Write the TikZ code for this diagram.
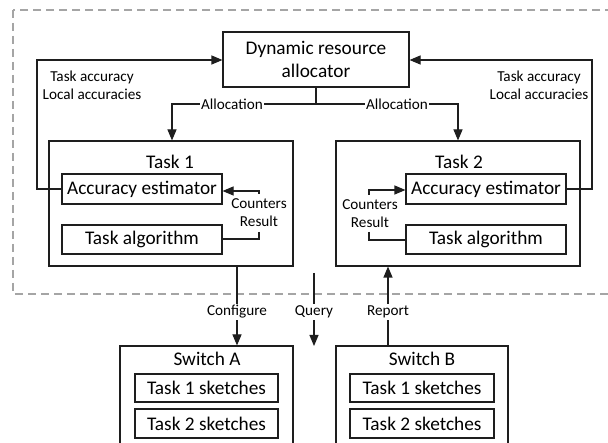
\documentclass[tikz,border=0pt]{standalone}
\usepackage{fontspec}
\setmainfont{Carlito}
\usetikzlibrary{arrows.meta}
\begin{document}
\begin{tikzpicture}[x=1pt,y=-1pt,
  line width=1.1pt, draw={rgb,255:red,30;green,30;blue,30},
  box/.style={draw, rectangle, inner sep=0pt, font=\fontsize{19.3}{22}\selectfont},
  big/.style={font=\fontsize{19.3}{22}\selectfont, inner sep=0pt},
  lbl/.style={font=\fontsize{15.2}{18}\selectfont, inner sep=1.5pt, align=center},
  wlbl/.style={lbl, fill=white},
  arr/.style={-{Triangle[length=11pt,width=9pt]}},
  dashbox/.style={draw={rgb,255:red,165;green,165;blue,165}, line width=1.1pt, dash pattern=on 8pt off 5pt}
]
\clip (0,0) rectangle (608,443);
\fill[white] (0,0) rectangle (608,443);
\draw[dashbox] (13,10) rectangle (640,294);

% allocator
\node[box, minimum width=186pt, minimum height=55pt, align=center] (alloc) at (316,59.5) {Dynamic resource\\[1pt]allocator};

% task 1
\node[box, minimum width=244pt, minimum height=125pt] (t1) at (171,203.5) {};
\node[big] (t1l) at (170,162) {Task 1};
\node[box, minimum width=160pt, minimum height=30pt] (ae1) at (142,189) {Accuracy estimator};
\node[box, minimum width=160pt, minimum height=29pt] (ta1) at (142,239.5) {Task algorithm};

% task 2
\node[box, minimum width=244pt, minimum height=125pt] (t2) at (458,203.5) {};
\node[big] (t2l) at (459,162) {Task 2};
\node[box, minimum width=160pt, minimum height=30pt] (ae2) at (486,189) {Accuracy estimator};
\node[box, minimum width=160pt, minimum height=29pt] (ta2) at (486,239.5) {Task algorithm};

% switches
\node[box, minimum width=173pt, minimum height=120pt] (swa) at (206.5,406) {};
\node[big] (swal) at (207,359) {Switch A};
\node[box, minimum width=143pt, minimum height=28pt] (s1a) at (206.5,388) {Task 1 sketches};
\node[box, minimum width=143pt, minimum height=29pt] (s2a) at (206.5,423.5) {Task 2 sketches};

\node[box, minimum width=172pt, minimum height=120pt] (swb) at (422,406) {};
\node[big] (swbl) at (422,359) {Switch B};
\node[box, minimum width=144pt, minimum height=28pt] (s1b) at (422,388) {Task 1 sketches};
\node[box, minimum width=144pt, minimum height=29pt] (s2b) at (422,423.5) {Task 2 sketches};

% feedback to allocator
\coordinate (fl) at (37,60);
\coordinate (fr) at (592,60);
\draw[arr] (ae1.west) -| (fl) -- (alloc.west |- fl);
\draw[arr] (ae2.east) -| (fr) -- (alloc.east |- fr);
\node[lbl] (fbl) at (92,85) {Task accuracy\\Local accuracies};
\node[lbl] (fbr) at (539,85) {Task accuracy\\Local accuracies};

% allocation
\coordinate (aj) at (316,104);
\coordinate (al) at (172,104);
\coordinate (ar) at (458,104);
\draw (alloc.south) -- (aj);
\draw[arr] (aj) -- (al) -- (al |- t1.north);
\draw[arr] (aj) -- (ar) -- (ar |- t2.north);
\node[wlbl] (all1) at (232,104) {Allocation};
\node[wlbl] (all2) at (397,104) {Allocation};

% counters / result
\coordinate (c1a) at (259,194);
\coordinate (c1b) at (259,232);
\draw[arr] (c1a) |- (ae1.east |- 0,191);
\draw (c1b) |- (ta1.east |- 0,239);
\node[lbl] (cr1) at (259,213) {Counters\\Result};
\coordinate (c2a) at (369,195);
\coordinate (c2b) at (369,232);
\draw[arr] (c2a) |- (ae2.west |- 0,190);
\draw (c2b) |- (ta2.west |- 0,240);
\node[lbl] (cr2) at (370,214) {Counters\\Result};

% configure / query / report
\coordinate (cf) at (237,266);
\draw[arr] (cf) -- (cf |- swa.north);
\node[wlbl] (cfl) at (237,312) {Configure};
\coordinate (q0) at (314,273);
\coordinate (q1) at (314,346);
\draw[arr] (q0) -- (q1);
\node[wlbl] (ql) at (314,312) {Query};
\coordinate (rp) at (388,346);
\draw[arr] (rp) -- (rp |- t2.south);
\node[wlbl] (rpl) at (388,312) {Report};
\end{tikzpicture}
\end{document}
